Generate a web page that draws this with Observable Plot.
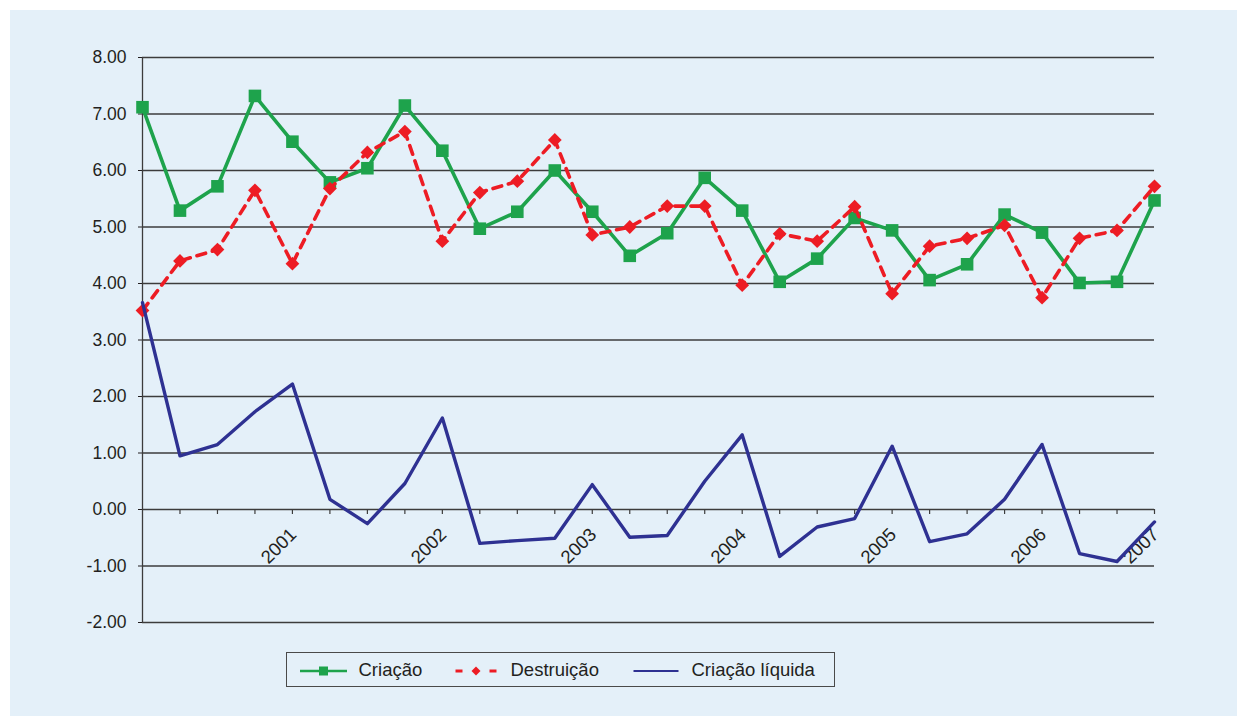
<!DOCTYPE html>
<html>
<head>
<meta charset="utf-8">
<script src="https://cdn.jsdelivr.net/npm/d3@7"></script>
<script src="https://cdn.jsdelivr.net/npm/@observablehq/plot@0.6"></script>
<style>
  html, body { margin: 0; padding: 0; background: #ffffff; overflow: hidden; }
  #panel {
    position: absolute; left: 10px; top: 10px; width: 1227px; height: 706px;
    background: #e4f0f9; font-family: "Liberation Sans", Arial, sans-serif; color: #231f20;
  }
  #chart { position: absolute; left: 0; top: 0; }
  #chart svg { overflow: visible; }
  #legend {
    position: absolute; left: 276px; top: 642px; width: 547px; height: 33px;
    border: 1px solid #4a4a4a; box-sizing: content-box;
  }
  #legend svg { position: absolute; left: 0; top: 0; overflow: visible; }
  #legend .item { position: absolute; top: 0; height: 33px; line-height: 33px; font-size: 18.5px; white-space: nowrap; }
</style>
</head>
<body>
<div id="panel">
  <div id="chart"></div>
  <div id="legend"></div>
</div>
<script>
// Quarterly job creation / destruction rates (%), 28 quarters
const criacao = [7.12, 5.29, 5.72, 7.32, 6.51, 5.79, 6.04, 7.15, 6.35, 4.97, 5.27, 6.00, 5.27, 4.49,
                 4.89, 5.87, 5.29, 4.03, 4.44, 5.16, 4.94, 4.06, 4.34, 5.22, 4.90, 4.01, 4.03, 5.47];
const destruicao = [3.52, 4.40, 4.60, 5.65, 4.35, 5.68, 6.32, 6.69, 4.75, 5.61, 5.81, 6.54, 4.86, 5.00,
                    5.37, 5.37, 3.97, 4.88, 4.75, 5.36, 3.82, 4.66, 4.80, 5.03, 3.75, 4.80, 4.94, 5.72];
const liquida = [3.66, 0.95, 1.15, 1.73, 2.22, 0.18, -0.25, 0.46, 1.62, -0.60, -0.55, -0.51, 0.44, -0.49,
                 -0.46, 0.50, 1.32, -0.83, -0.31, -0.16, 1.12, -0.57, -0.43, 0.18, 1.15, -0.78, -0.92, -0.22];

// Category axis: quarter index, with year labels on selected quarters
const quarterIndex = criacao.map((_, i) => i);
const yearTicks = [4, 8, 12, 16, 20, 24, 27];
const yearLabels = ["2001", "2002", "2003", "2004", "2005", "2006", "2007"];
const yTicks = [-2, -1, 0, 1, 2, 3, 4, 5, 6, 7, 8];

const seriesNames = ["Criação", "Destruição", "Criação líquida"];
const colors = {green: "#1ea34c", red: "#ed1c24", navy: "#2e3192"};

const rows = quarterIndex.map(i => ({q: i, criacao: criacao[i], destruicao: destruicao[i], liquida: liquida[i]}));

const chart = Plot.plot({
  width: 1227,
  height: 640,
  marginLeft: 132,
  marginRight: 83,
  marginTop: 47,
  marginBottom: 28,
  x: {domain: [0, quarterIndex.length - 1], axis: null},
  y: {domain: [-2, 8], axis: null},
  style: {background: "transparent", fontFamily: "'Liberation Sans', Arial, sans-serif", color: "#231f20", overflow: "visible"},
  marks: [
    Plot.gridY(yTicks, {stroke: "#3c3c3c", strokeOpacity: 1, strokeWidth: 1.3}),
    Plot.axisY(yTicks, {tickSize: 4, tickPadding: 12, fontSize: 17.5, tickFormat: d => d.toFixed(2)}),
    Plot.ruleX([0], {stroke: "#3c3c3c", strokeWidth: 1.3}),
    // small tick marks along the zero line
    Plot.ruleX(quarterIndex.slice(1), {y1: 0, y2: 0, insetBottom: -5, stroke: "#3c3c3c", strokeWidth: 1.2}),
    Plot.text(yearLabels, {x: (d, i) => yearTicks[i], y: 0, text: d => d, rotate: -45, textAnchor: "end",
                           dx: 1, dy: 22, fontSize: 18.5, fill: "#231f20"}),
    // Criação
    Plot.line(rows, {x: "q", y: "criacao", stroke: colors.green, strokeWidth: 3.6}),
    Plot.dot(rows, {x: "q", y: "criacao", symbol: "square", r: 7.1, fill: colors.green, stroke: "none"}),
    // Destruição
    Plot.line(rows, {x: "q", y: "destruicao", stroke: colors.red, strokeWidth: 3.6, strokeDasharray: "9,7"}),
    Plot.dot(rows, {x: "q", y: "destruicao", symbol: "diamond2", r: 6.2, fill: colors.red, stroke: "none"}),
    // Criação líquida
    Plot.line(rows, {x: "q", y: "liquida", stroke: colors.navy, strokeWidth: 3.4})
  ]
});
document.getElementById("chart").appendChild(chart);

// Legend
const legend = document.getElementById("legend");
const ns = "http://www.w3.org/2000/svg";
const sw = document.createElementNS(ns, "svg");
sw.setAttribute("width", 547);
sw.setAttribute("height", 33);
sw.innerHTML = `
  <line x1="13" x2="60" y1="18" y2="18" stroke="${colors.green}" stroke-width="2.6"/>
  <rect x="32" y="13.5" width="9" height="9" fill="${colors.green}"/>
  <line x1="168.5" x2="175.5" y1="18" y2="18" stroke="${colors.red}" stroke-width="3"/>
  <path d="M189,13.5 L193.5,18 L189,22.5 L184.5,18 Z" fill="${colors.red}"/>
  <line x1="202.5" x2="209.5" y1="18" y2="18" stroke="${colors.red}" stroke-width="3"/>
  <line x1="346.5" x2="391.5" y1="18" y2="18" stroke="${colors.navy}" stroke-width="2"/>`;
legend.appendChild(sw);
const textPos = [71.5, 223.5, 404.5];
seriesNames.forEach((name, i) => {
  const el = document.createElement("div");
  el.className = "item";
  el.style.left = textPos[i] + "px";
  el.textContent = name;
  legend.appendChild(el);
});
</script>
</body>
</html>
